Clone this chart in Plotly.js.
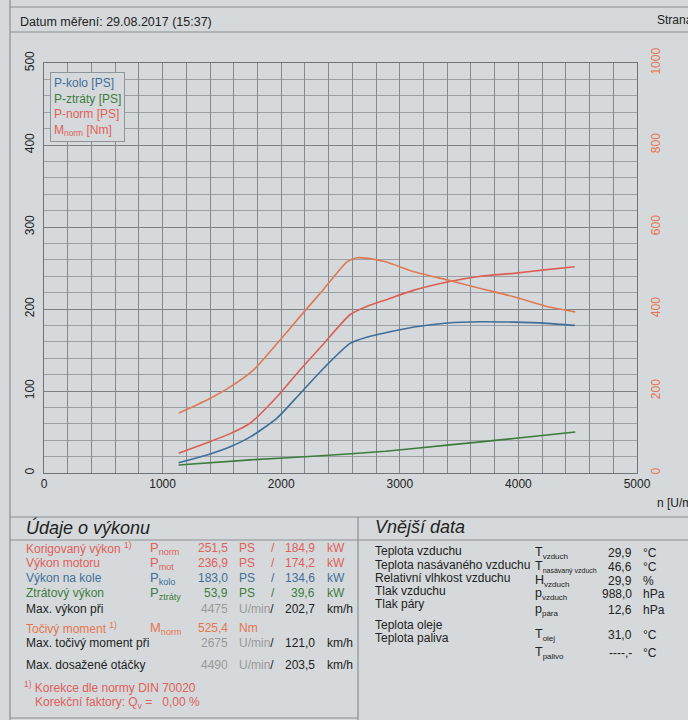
<!DOCTYPE html>
<html>
<head>
<meta charset="utf-8">
<script src="https://cdn.plot.ly/plotly-3.0.1.min.js"></script>
<style>
  html, body { margin: 0; padding: 0; background: #d5d9db; }
  #chart { width: 688px; height: 720px; }
</style>
</head>
<body>
<div id="chart"></div>
<script>
// curve readings (rpm / PS, Nm)
const rpmPower = [1135, 1375, 1570, 1740, 1965, 2160, 2360, 2580, 2720, 2880, 3120, 3400, 3680, 3960, 4240, 4475];
const pNorm = [24, 37, 48, 61, 93, 126, 158, 193, 203, 211, 223, 233, 240, 243.5, 248, 251.5];
const pKolo = [12.6, 22, 32, 44, 67, 97, 128, 158, 165.5, 171, 178, 183, 184.5, 184, 182.5, 180];

const rpmTorque = [1135, 1375, 1570, 1765, 1965, 2160, 2360, 2555, 2640, 2720, 2880, 3120, 3400, 3680, 3960, 4240, 4480];
const mNorm = [146, 178, 210, 251, 316, 382, 449, 515, 525, 524, 515, 491, 471, 450, 430, 406, 393];

const rpmLoss = [1135, 1740, 2300, 2880, 3400, 3960, 4480];
const pZtraty = [9.8, 16, 20.7, 26.5, 34, 42, 50];

const xGridVals = [0, 200, 400, 600, 800, 1000, 1200, 1400, 1600, 1800, 2000, 2200, 2400, 2600, 2800,
  3000, 3200, 3400, 3600, 3800, 4000, 4200, 4400, 4600, 4800, 5000];
const xTickLabels = ["0", "", "", "", "", "1000", "", "", "", "", "2000", "", "", "", "", "3000", "", "", "", "",
  "4000", "", "", "", "", "5000"];
const yLeftTicks = [0, 100, 200, 300, 400, 500];
const yRightTicks = [0, 200, 400, 600, 800, 1000];

const legendNames = ["P-kolo [PS]", "P-ztráty [PS]", "P-norm [PS]", "M<sub>norm</sub> [Nm]"];

const headerDate = "Datum měření: 29.08.2017 (15:37)";

// Údaje o výkonu
const perfLabels = ["Korigovaný výkon <sup>1)</sup>", "Výkon motoru", "Výkon na kole", "Ztrátový výkon", "Max. výkon při",
  "Točivý moment <sup>1)</sup>", "Max. točivý moment při", "Max. dosažené otáčky"];
const perfSymbols = ["P<sub>norm</sub>", "P<sub>mot</sub>", "P<sub>kolo</sub>", "P<sub>ztráty</sub>", "", "M<sub>norm</sub>", "", ""];
const perfValue1 = ["251,5", "236,9", "183,0", "53,9", "4475", "525,4", "2675", "4490"];
const perfUnit1 = ["PS", "PS", "PS", "PS", "U/min", "Nm", "U/min", "U/min"];
const perfValue2 = ["184,9", "174,2", "134,6", "39,6", "202,7", "", "121,0", "203,5"];
const perfUnit2 = ["kW", "kW", "kW", "kW", "km/h", "", "km/h", "km/h"];
const footnotes = ["<sup>1)</sup> Korekce dle normy DIN 70020", "Korekční faktory: Q<sub>v</sub> =   0,00 %"];

// Vnější data
const extLabels = ["Teplota vzduchu", "Teplota nasávaného vzduchu", "Relativní vlhkost vzduchu", "Tlak vzduchu", "Tlak páry",
  "Teplota oleje", "Teplota paliva"];
const extSymbolBase = ["T", "T", "H", "p", "p", "T", "T"];
const extSymbolSub = ["vzduch", "nasávaný vzduch", "vzduch", "vzduch", "pára", "olej", "palivo"];
const extValues = ["29,9", "46,6", "29,9", "988,0", "12,6", "31,0", "----,-"];
const extUnits = ["°C", "°C", "%", "hPa", "hPa", "°C", "°C"];

(() => {
  const W = 688, H = 720;
  const PL = 44, PR = 637, PT = 63, PB = 473;
  const px = (x) => (x - PL) / (PR - PL);
  const py = (y) => (PB - y) / (PB - PT);

  const BLUE = "#3f6e99", GREEN = "#3d7c3d", RED = "#db5f55", ORANGE = "#de7a55";
  const TXT_RED = "#e0605a", TXT_ORANGE = "#e6764f", GREY = "#9a9a9a", INK = "#222";
  const FONT = "Liberation Sans, Arial, sans-serif";

  const line = (x, y, color, name, yaxis) => ({
    x, y, name, yaxis: yaxis || "y",
    type: "scatter", mode: "lines",
    line: { color, width: 1.6, shape: "spline", smoothing: 0.6 },
    hoverinfo: "skip",
  });

  const traces = [
    line(rpmLoss, pZtraty, GREEN, "P-ztráty"),
    line(rpmPower, pKolo, BLUE, "P-kolo"),
    line(rpmPower, pNorm, RED, "P-norm"),
    line(rpmTorque, mNorm, ORANGE, "M-norm", "y2"),
  ];

  const ann = [];
  const txt = (x, y, text, o = {}) => ann.push({
    xref: "paper", yref: "paper", x: px(x), y: py(y), text, showarrow: false,
    xanchor: o.xa || "left", yanchor: o.ya || "middle",
    font: { family: FONT, size: o.size || 12, color: o.color || INK },
  });

  // header
  txt(18, 22, headerDate, { size: 12.5 });
  txt(655, 20, "Strana", { size: 12 });
  txt(655, 503, "n [U/min]", { size: 12 });

  // legend box
  ann.push({
    xref: "paper", yref: "paper", x: px(50), y: py(72), xanchor: "left", yanchor: "top",
    showarrow: false, align: "left",
    text: [BLUE, GREEN, TXT_RED, TXT_RED].map((c, i) => `<span style="color:${c}">${legendNames[i]}</span>`).join("<br>"),
    font: { family: FONT, size: 12 },
    bgcolor: "#d5d9db", bordercolor: "#8f9498", borderwidth: 1, borderpad: 3,
  });

  // left panel
  txt(24, 527, "<i>Údaje o výkonu</i>", { size: 18 });
  const perfY = [548, 563, 578, 593, 609, 628, 643, 665];
  const perfColor = [TXT_RED, TXT_RED, BLUE, GREEN, INK, TXT_ORANGE, INK, INK];
  perfLabels.forEach((lab, i) => {
    const y = perfY[i], c = perfColor[i];
    const rpmRow = perfUnit1[i] === "U/min";
    txt(24, y, lab, { color: c });
    if (perfSymbols[i]) txt(148, y, perfSymbols[i], { color: c, size: 13 });
    txt(230, y, perfValue1[i], { xa: "right", color: rpmRow ? GREY : c });
    if (rpmRow) {
      txt(237, y, `<span style="color:${GREY}">${perfUnit1[i]}</span>/`);
    } else {
      txt(237, y, perfUnit1[i], { color: c });
      if (perfValue2[i]) txt(273, y, "/", { xa: "center", color: c });
    }
    if (perfValue2[i]) {
      txt(317, y, perfValue2[i], { xa: "right", color: rpmRow ? INK : c });
      txt(325, y, perfUnit2[i], { color: rpmRow ? INK : c });
    }
  });
  txt(22, 687, footnotes[0], { color: TXT_RED });
  txt(33, 703, footnotes[1], { color: TXT_RED });

  // right panel
  txt(373, 527, "<i>Vnější data</i>", { size: 18 });
  const extLabelY = [551, 565, 578, 591, 604, 625, 638];
  const extValueY = [553, 567, 581, 594, 610, 635, 653];
  extLabels.forEach((lab, i) => {
    txt(373, extLabelY[i], lab);
    txt(533, extValueY[i], `${extSymbolBase[i]}<sub><span style="font-size:${i === 1 ? 7 : 8}px">${extSymbolSub[i]}</span></sub>`, { size: 12.5 });
    txt(634, extValueY[i], extValues[i], { xa: "right" });
    txt(641, extValueY[i], extUnits[i]);
  });

  const hline = (y, x0 = 0, x1 = W) => ({
    type: "line", xref: "paper", yref: "paper", x0: px(x0), x1: px(x1), y0: py(y), y1: py(y),
    line: { color: "#8a8f93", width: 1.2 },
  });
  const vline = (x, y0, y1) => ({
    type: "line", xref: "paper", yref: "paper", x0: px(x), x1: px(x), y0: py(y0), y1: py(y1),
    line: { color: "#8a8f93", width: 1.2 },
  });
  const shapes = [
    hline(7, 10), hline(32, 10), hline(517, 10), hline(540, 10), hline(718, 10, 358),
    vline(10, 0, 720), vline(358, 517, 720),
  ];

  const layout = {
    width: W, height: H,
    margin: { l: PL, r: W - PR, t: PT, b: H - PB, pad: 0 },
    paper_bgcolor: "#d5d9db",
    plot_bgcolor: "#d5d9db",
    showlegend: false,
    font: { family: FONT, size: 12, color: INK },
    xaxis: {
      range: [0, 5000], tickvals: xGridVals, ticktext: xTickLabels, ticks: "",
      showline: true, linecolor: "#6f7478", mirror: true,
      gridcolor: "#848a8e", gridwidth: 1, zeroline: false,
      tickfont: { size: 12, color: INK },
    },
    yaxis: {
      range: [0, 500], tickvals: yLeftTicks, ticks: "", tickangle: -90, showline: true, linecolor: "#6f7478", mirror: true,
      gridcolor: "#7c8185", gridwidth: 1, zeroline: false, ticklabelstandoff: 4,
      tickfont: { size: 12, color: INK },
      minor: { dtick: 20, showgrid: true, gridcolor: "#9aa0a3", gridwidth: 1 },
    },
    yaxis2: {
      range: [0, 1000], tickvals: yRightTicks, overlaying: "y", side: "right", showgrid: false, zeroline: false,
      ticks: "", tickangle: -90, ticklabelstandoff: 10,
      tickfont: { size: 12, color: TXT_ORANGE },
    },
    annotations: ann,
    shapes,
  };

  Plotly.newPlot("chart", traces, layout, { displayModeBar: false, staticPlot: true });
})();
</script>
</body>
</html>
